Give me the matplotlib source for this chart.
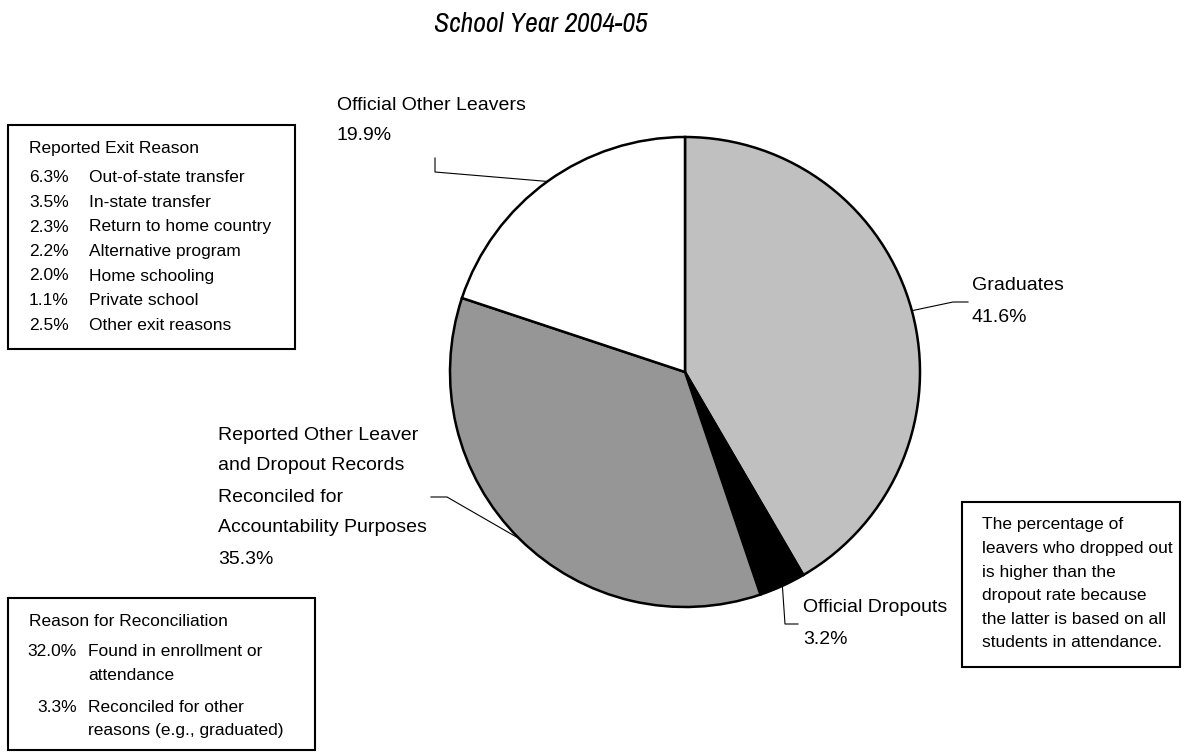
import matplotlib
matplotlib.use('Agg')
import numpy as np
import matplotlib.pyplot as plt
from matplotlib import font_manager as fm
from matplotlib.patches import Rectangle

W, H = 1189, 752

title = 'School Year 2004-05'

# pie slices, clockwise from 12 o'clock
slice_names = ['Graduates', 'Official Dropouts',
               'Reported Other Leaver\nand Dropout Records\nReconciled for\nAccountability Purposes',
               'Official Other Leavers']
slice_values = [41.6, 3.2, 35.3, 19.9]
slice_colors = ['#c0c0c0', '#000000', '#969696', '#ffffff']

exit_header = 'Reported Exit Reason'
exit_pct = [6.3, 3.5, 2.3, 2.2, 2.0, 1.1, 2.5]
exit_reasons = ['Out-of-state transfer', 'In-state transfer', 'Return to home country',
                'Alternative program', 'Home schooling', 'Private school', 'Other exit reasons']

recon_header = 'Reason for Reconciliation'
recon_pct = [32.0, 3.3]
recon_reasons = ['Found in enrollment or\nattendance', 'Reconciled for other\nreasons (e.g., graduated)']

note = ('The percentage of\nleavers who dropped out\nis higher than the\n'
        'dropout rate because\nthe latter is based on all\nstudents in attendance.')

plt.rcParams['font.family'] = ['Liberation Sans', 'DejaVu Sans']

# condensed face for the title (Arial Narrow look-alike if there is one)
installed = sorted({f.name for f in fm.fontManager.ttflist})
if 'Liberation Sans Narrow' in installed:
    narrow = 'Liberation Sans Narrow'
else:
    narrow = next((n for n in installed if 'Narrow' in n or 'Condensed' in n), None)


def Y(y):
    # pixel row (from top) -> data y
    return H - y


def lines(ax, x, y0, text, step, size, ha='left'):
    for i, s in enumerate(text.split('\n')):
        ax.text(x, Y(y0 + i * step), s, fontsize=size, ha=ha, va='center')


fig = plt.figure(figsize=(W / 100, H / 100), dpi=100)
ax = fig.add_axes([0, 0, 1, 1])

cx, cy, r = 685, 372, 235
wedges, _ = ax.pie(slice_values, colors=slice_colors, startangle=90, counterclock=False,
                   center=(cx, Y(cy)), radius=r,
                   wedgeprops=dict(edgecolor='black', linewidth=1.8))
ax.set_xlim(0, W)
ax.set_ylim(0, H)
ax.set_aspect('equal')
ax.axis('off')


def edge_point(w):
    a = np.deg2rad((w.theta1 + w.theta2) / 2)
    return cx + r * np.cos(a), Y(cy) + r * np.sin(a)


lab = 14
step = 31
# Graduates
ex, ey = edge_point(wedges[0])
ax.plot([ex, 953, 968], [ey, Y(302), Y(302)], color='black', lw=0.8)
lines(ax, 972, 285, f'{slice_names[0]}\n{slice_values[0]:.1f}%', 32, lab)
# Official Dropouts
ex, ey = edge_point(wedges[1])
ax.plot([ex, 785, 798], [ey, Y(624), Y(624)], color='black', lw=0.8)
lines(ax, 803, 608, f'{slice_names[1]}\n{slice_values[1]:.1f}%', step, lab)
# Reconciled
ex, ey = edge_point(wedges[2])
ax.plot([ex, 447, 431], [ey, Y(497), Y(497)], color='black', lw=0.8)
lines(ax, 218, 435, f'{slice_names[2]}\n{slice_values[2]:.1f}%', step, lab)
# Other leavers
ex, ey = edge_point(wedges[3])
ax.plot([ex, 435, 435], [ey, Y(172), Y(158)], color='black', lw=0.8)
lines(ax, 337, 106, f'{slice_names[3]}\n{slice_values[3]:.1f}%', 30, lab)

# title
if narrow:
    ax.text(541, Y(25), title, fontsize=20, style='italic', ha='center', va='center',
            family=[narrow, 'Liberation Sans'])
else:
    ax.text(541, Y(25), title, fontsize=17, style='italic', ha='center', va='center')

box = 12.5
# exit reason box
ax.add_patch(Rectangle((8, Y(349)), 287, 224, fill=False, ec='black', lw=1.5))
ax.text(29, Y(148), exit_header, fontsize=box, va='center')
for i, (p, s) in enumerate(zip(exit_pct, exit_reasons)):
    ax.text(29, Y(178 + i * 24.5), f'{p:.1f}%', fontsize=box, va='center')
    ax.text(89, Y(178 + i * 24.5), s, fontsize=box, va='center')

# reconciliation box
ax.add_patch(Rectangle((8, Y(750)), 307, 152, fill=False, ec='black', lw=1.5))
ax.text(29, Y(622), recon_header, fontsize=box, va='center')
ry = [652, 707]
for p, s, y in zip(recon_pct, recon_reasons, ry):
    ax.text(77, Y(y), f'{p:.1f}%', fontsize=box, va='center', ha='right')
    lines(ax, 88, y, s, 24, box)

# note box
ax.add_patch(Rectangle((962, Y(667)), 218, 165, fill=False, ec='black', lw=1.5))
lines(ax, 982, 525, note, 23.5, 12.5)

fig.savefig('out.png', dpi=100)
